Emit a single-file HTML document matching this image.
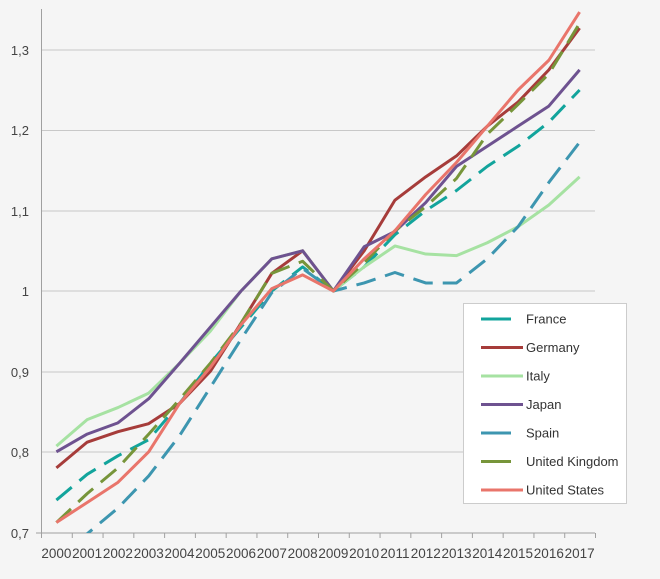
<!DOCTYPE html>
<html><head><meta charset="utf-8"><style>
html,body{margin:0;padding:0;background:#f5f5f5;}
svg{display:block;font-family:"Liberation Sans",sans-serif;}
</style></head><body>
<svg width="660" height="579" viewBox="0 0 660 579">
<rect width="660" height="579" fill="#f5f5f5"/>
<g stroke="#c8c8c8" stroke-width="1">
<line x1="41" y1="50" x2="595" y2="50"/>
<line x1="41" y1="130.5" x2="595" y2="130.5"/>
<line x1="41" y1="211" x2="595" y2="211"/>
<line x1="41" y1="291" x2="595" y2="291"/>
<line x1="41" y1="372" x2="595" y2="372"/>
<line x1="41" y1="452" x2="595" y2="452"/>
</g>
<g stroke="#a0a0a0" stroke-width="1">
<line x1="41.5" y1="9" x2="41.5" y2="533"/>
<line x1="36" y1="533" x2="595" y2="533"/>
</g>
<g fill="#444" font-size="13" text-anchor="end">
<text x="29" y="55">1,3</text><text x="29" y="135">1,2</text><text x="29" y="216">1,1</text>
<text x="29" y="296">1</text><text x="29" y="377">0,9</text><text x="29" y="457">0,8</text><text x="29" y="538">0,7</text>
</g>
<g id="ticks" stroke="#a0a0a0"></g>
<g id="xl" fill="#444" font-size="13.5" text-anchor="middle"></g>
<defs><clipPath id="c"><rect x="41" y="0" width="560" height="533"/></clipPath></defs>
<g id="series" clip-path="url(#c)" fill="none" stroke-width="3" stroke-linejoin="round"></g>
<rect x="463.5" y="303.5" width="163" height="200" fill="#fff" stroke="#ccc"/>
<g id="leg" font-size="13" fill="#333"></g>
<script>
var d={
France:["#12a49c",1,[0.74,0.772,0.795,0.815,0.86,0.91,0.955,1.0,1.03,1.0,1.03,1.07,1.1,1.125,1.155,1.18,1.21,1.25]],
Germany:["#a63c3a",0,[0.78,0.812,0.825,0.835,0.86,0.9,0.96,1.022,1.05,1.0,1.05,1.113,1.142,1.168,1.205,1.235,1.275,1.327]],
Italy:["#a6e2a2",0,[0.807,0.84,0.855,0.873,0.91,0.95,1.0,1.04,1.05,1.0,1.03,1.056,1.046,1.044,1.06,1.08,1.107,1.142]],
Japan:["#6e5290",0,[0.8,0.822,0.836,0.866,0.91,0.955,1.0,1.04,1.05,1.0,1.055,1.074,1.11,1.155,1.18,1.205,1.23,1.275]],
Spain:["#3d96b0",1,[0.66,0.698,0.73,0.77,0.82,0.88,0.94,0.998,1.028,1.0,1.01,1.023,1.01,1.01,1.04,1.08,1.135,1.185]],
"United Kingdom":["#77953a",1,[0.712,0.748,0.78,0.822,0.865,0.91,0.96,1.022,1.037,1.0,1.035,1.075,1.105,1.14,1.195,1.232,1.27,1.333]],
"United States":["#e9756b",0,[0.712,0.737,0.762,0.8,0.86,0.905,0.958,1.003,1.02,1.0,1.04,1.075,1.12,1.16,1.205,1.25,1.287,1.347]]};
var NS="http://www.w3.org/2000/svg",w=(595-41)/18;
function X(i){return 41+w*(i+0.5)}function Y(v){return 291-(v-1)*804}
var t=document.getElementById("ticks"),xl=document.getElementById("xl");
for(var i=0;i<=18;i++){var l=document.createElementNS(NS,"line");var x=41.5+w*i;l.setAttribute("x1",x);l.setAttribute("x2",x);l.setAttribute("y1",533);l.setAttribute("y2",538);t.appendChild(l);}
for(i=0;i<18;i++){var tx=document.createElementNS(NS,"text");tx.setAttribute("x",X(i));tx.setAttribute("y",558);tx.textContent=2000+i;xl.appendChild(tx);}
var s=document.getElementById("series"),lg=document.getElementById("leg"),k=0;
for(var n in d){var c=d[n],p=document.createElementNS(NS,"polyline");
p.setAttribute("points",c[2].map(function(v,i){return X(i)+","+Y(v)}).join(" "));
p.setAttribute("stroke",c[0]);if(c[1])p.setAttribute("stroke-dasharray","20 10");s.appendChild(p);
var y=319+k*28.5,L=document.createElementNS(NS,"line");L.setAttribute("x1",481);L.setAttribute("x2",c[1]?511:523);
L.setAttribute("y1",y);L.setAttribute("y2",y);L.setAttribute("stroke",c[0]);L.setAttribute("stroke-width",3);lg.appendChild(L);
var T=document.createElementNS(NS,"text");T.setAttribute("x",526);T.setAttribute("y",y+4.5);T.textContent=n;lg.appendChild(T);k++;}
</script>
</svg>
</body></html>
